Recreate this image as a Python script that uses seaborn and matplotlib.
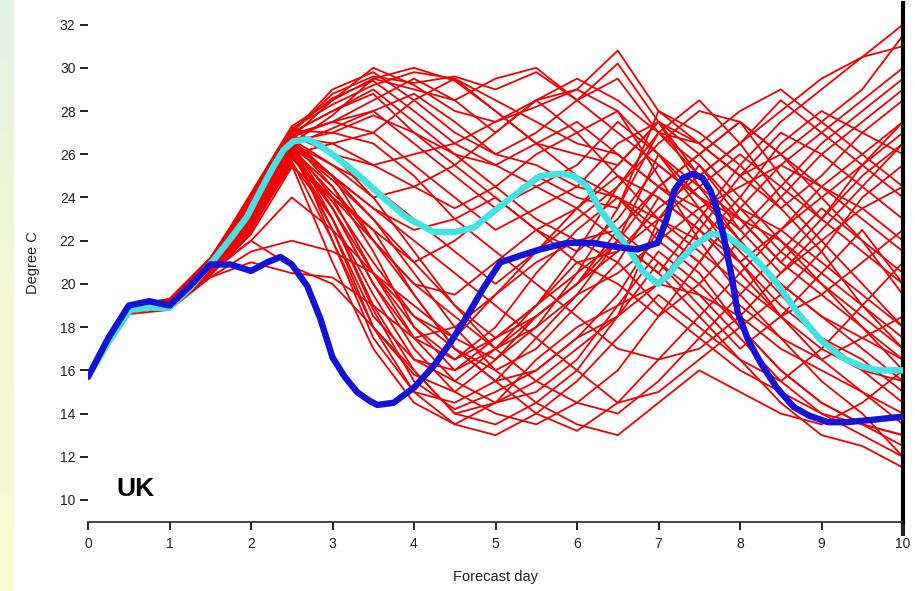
import numpy as np
import pandas as pd
import matplotlib
matplotlib.use("Agg")
import matplotlib.pyplot as plt
import seaborn as sns

# ensemble members, 12-hourly values from day 0 to day 10
steps = [i * 0.5 for i in range(21)]
members = [
    [15.8, 18.9, 19.1, 20.8, 23.5, 26.8, 28.5, 30.0, 29.2, 28.0, 27.5, 28.2, 29.0, 30.8, 28.0, 26.5, 25.0, 26.0, 27.5, 29.0, 31.5],
    [15.7, 18.8, 19.0, 20.6, 23.0, 26.5, 27.8, 29.5, 30.0, 29.4, 28.0, 26.5, 25.0, 24.0, 22.5, 21.0, 23.5, 25.5, 27.0, 28.5, 30.0],
    [15.8, 19.0, 19.2, 21.0, 24.0, 27.2, 26.0, 24.0, 21.5, 19.0, 17.5, 18.5, 20.0, 22.0, 24.5, 26.0, 27.5, 26.0, 24.0, 22.0, 19.5],
    [15.7, 18.7, 18.9, 20.4, 22.5, 26.0, 23.0, 19.5, 16.5, 15.5, 17.0, 19.0, 21.5, 23.0, 25.5, 24.0, 22.0, 20.0, 18.5, 17.0, 15.5],
    [15.8, 18.9, 19.0, 20.7, 23.2, 26.6, 22.0, 17.5, 15.0, 14.5, 15.5, 17.5, 19.5, 22.0, 26.0, 23.5, 21.0, 19.0, 17.5, 16.0, 14.5],
    [15.7, 18.8, 19.1, 20.5, 22.8, 26.2, 24.5, 21.5, 18.0, 16.0, 17.5, 19.0, 21.0, 21.5, 23.0, 22.0, 24.0, 26.5, 28.0, 27.0, 26.0],
    [15.8, 19.0, 19.3, 21.2, 24.0, 27.0, 28.0, 29.0, 27.5, 26.0, 24.5, 23.0, 22.0, 21.0, 19.0, 17.5, 16.0, 15.0, 14.0, 13.5, 13.0],
    [15.7, 18.6, 18.8, 20.3, 21.5, 22.0, 21.5, 20.5, 19.0, 17.5, 16.5, 18.0, 20.5, 23.5, 27.0, 28.5, 26.5, 24.0, 22.0, 20.0, 18.0],
    [15.8, 18.9, 19.0, 20.6, 22.0, 20.8, 20.0, 18.0, 16.0, 14.0, 14.5, 15.5, 17.0, 18.5, 20.0, 22.5, 25.0, 27.0, 26.0, 24.5, 23.0],
    [15.7, 18.7, 19.0, 20.5, 23.0, 26.3, 25.0, 23.5, 22.0, 20.5, 19.0, 17.5, 16.0, 14.5, 15.0, 16.5, 18.0, 19.5, 21.5, 24.0, 25.5],
    [15.8, 19.0, 19.2, 21.0, 23.8, 26.9, 27.5, 28.0, 26.5, 25.0, 23.5, 24.5, 25.5, 27.5, 26.0, 24.5, 23.0, 21.0, 19.5, 18.0, 16.5],
    [15.7, 18.8, 19.0, 20.6, 23.3, 26.5, 23.5, 20.0, 17.0, 15.0, 14.0, 13.5, 14.5, 16.0, 18.5, 21.0, 23.5, 22.5, 21.0, 19.5, 18.0],
    [15.8, 18.9, 19.1, 20.8, 23.6, 26.7, 25.5, 24.0, 24.5, 25.5, 27.0, 28.5, 27.0, 25.0, 23.0, 24.5, 26.0, 24.5, 23.0, 21.5, 20.0],
    [15.7, 18.7, 18.9, 20.4, 22.4, 25.8, 24.0, 22.5, 21.0, 22.0, 23.5, 25.0, 24.0, 23.5, 28.0, 27.0, 25.5, 23.5, 21.5, 19.0, 17.0],
    [15.8, 19.0, 19.2, 21.1, 24.2, 27.3, 28.5, 29.5, 29.0, 28.5, 29.5, 30.0, 28.5, 27.0, 25.5, 24.0, 22.5, 24.5, 26.5, 28.0, 29.5],
    [15.7, 18.8, 19.0, 20.5, 22.6, 25.5, 21.0, 17.0, 14.5, 13.5, 13.0, 14.0, 15.5, 17.5, 19.5, 18.0, 16.5, 15.5, 17.0, 19.0, 21.0],
    [15.8, 18.9, 19.1, 20.7, 23.1, 26.4, 24.0, 20.5, 18.0, 16.5, 18.0, 20.5, 22.5, 24.0, 22.0, 20.5, 18.0, 16.0, 14.5, 13.5, 12.5],
    [15.7, 18.7, 19.0, 20.6, 23.0, 26.0, 26.5, 27.0, 28.5, 29.5, 28.0, 26.5, 26.0, 25.5, 27.5, 25.0, 22.5, 20.5, 22.0, 23.5, 24.5],
    [15.8, 19.0, 19.2, 20.9, 23.4, 26.6, 25.0, 22.0, 19.5, 17.0, 15.5, 16.0, 17.5, 19.5, 22.5, 21.0, 19.0, 17.5, 15.5, 14.0, 12.0],
    [15.7, 18.8, 19.0, 20.5, 22.0, 24.0, 22.5, 20.5, 18.5, 17.5, 19.5, 21.5, 23.0, 24.5, 26.5, 28.0, 27.5, 25.0, 23.0, 25.5, 27.5],
    [15.8, 18.9, 19.1, 20.8, 23.7, 27.0, 29.0, 29.8, 28.5, 27.0, 26.0, 25.5, 24.5, 24.0, 23.0, 21.5, 20.0, 18.5, 17.0, 16.0, 15.5],
    [15.7, 18.7, 18.9, 20.4, 22.8, 26.1, 22.5, 18.5, 16.5, 16.0, 17.0, 18.5, 20.0, 21.5, 23.5, 25.0, 26.5, 28.5, 27.0, 25.5, 24.0],
    [15.8, 19.0, 19.2, 21.0, 23.9, 27.1, 27.0, 26.5, 25.0, 23.0, 21.5, 20.0, 18.5, 17.0, 16.5, 17.0, 18.5, 20.5, 22.5, 24.5, 26.5],
    [15.7, 18.8, 19.0, 20.6, 23.2, 26.5, 25.0, 23.0, 20.5, 18.0, 16.0, 14.5, 13.5, 13.0, 14.5, 16.0, 15.0, 14.0, 13.5, 14.5, 16.0],
    [15.8, 18.9, 19.1, 20.7, 23.5, 26.8, 27.5, 28.5, 29.5, 28.5, 27.0, 28.5, 29.5, 28.5, 27.0, 26.5, 28.0, 29.0, 27.5, 26.0, 24.5],
    [15.7, 18.7, 19.0, 20.5, 22.9, 26.2, 23.5, 20.0, 17.5, 18.0, 19.5, 21.0, 22.0, 22.5, 21.0, 19.0, 17.0, 18.5, 20.5, 22.5, 20.0],
    [15.8, 19.0, 19.2, 21.0, 23.6, 26.9, 26.0, 25.5, 26.0, 26.5, 25.5, 24.5, 23.5, 22.0, 20.5, 23.0, 25.5, 27.5, 29.0, 30.5, 32.0],
    [15.7, 18.8, 19.0, 20.6, 23.1, 26.3, 22.5, 18.0, 15.0, 13.5, 14.5, 16.5, 18.0, 19.0, 20.0, 19.5, 18.5, 17.0, 16.0, 15.0, 14.0],
    [15.8, 18.9, 19.1, 20.8, 23.4, 26.6, 24.5, 22.0, 20.0, 19.5, 21.0, 22.5, 23.5, 25.0, 24.0, 22.5, 21.0, 22.5, 24.0, 25.5, 27.0],
    [15.7, 18.7, 18.9, 20.3, 21.0, 20.5, 20.3, 19.0, 17.5, 16.5, 17.5, 19.0, 20.5, 22.0, 20.5, 18.5, 16.5, 14.5, 13.0, 12.5, 11.5],
    [15.8, 19.0, 19.3, 21.2, 24.1, 27.2, 28.3, 29.2, 29.8, 29.5, 28.5, 27.5, 26.5, 26.0, 24.5, 23.5, 24.5, 25.5, 24.5, 23.5, 22.0],
    [15.7, 18.8, 19.0, 20.5, 22.7, 25.9, 23.8, 21.0, 18.5, 17.0, 16.0, 17.0, 19.0, 21.0, 24.0, 22.5, 20.5, 18.5, 19.5, 21.0, 22.5],
    [15.8, 18.9, 19.1, 20.7, 23.3, 26.5, 25.5, 24.5, 23.0, 21.5, 20.0, 21.5, 23.5, 25.5, 27.5, 26.0, 24.0, 22.0, 20.0, 18.0, 16.0],
    [15.7, 18.7, 19.0, 20.6, 23.0, 26.4, 24.8, 23.0, 21.0, 19.0, 17.0, 15.5, 14.5, 14.0, 15.5, 17.5, 19.5, 21.5, 23.5, 22.0, 20.5],
    [15.8, 19.0, 19.2, 20.9, 23.6, 26.9, 27.5, 27.0, 25.5, 24.0, 22.5, 23.5, 24.5, 26.5, 27.5, 26.5, 25.0, 23.5, 25.0, 27.0, 28.5],
    [15.7, 18.8, 19.0, 20.5, 22.5, 25.6, 23.0, 19.0, 16.0, 14.0, 13.5, 14.5, 16.0, 18.5, 21.0, 19.5, 17.5, 15.5, 14.0, 13.0, 12.0],
    [15.8, 18.9, 19.1, 20.8, 23.8, 27.0, 28.0, 28.8, 27.0, 25.5, 24.0, 22.5, 21.0, 20.0, 18.5, 20.0, 22.0, 24.0, 26.0, 27.5, 29.0],
    [15.7, 18.7, 18.9, 20.4, 22.3, 25.4, 24.0, 22.0, 20.0, 18.5, 17.0, 18.0, 19.5, 20.5, 22.0, 23.5, 21.5, 19.5, 17.5, 16.5, 15.0],
    [15.8, 19.0, 19.2, 21.0, 23.7, 26.8, 26.5, 25.5, 24.5, 23.5, 24.5, 26.0, 27.0, 28.0, 25.0, 22.0, 19.5, 17.5, 16.5, 17.5, 18.5],
    [15.7, 18.8, 19.0, 20.6, 23.2, 26.5, 23.0, 18.8, 15.5, 14.2, 15.0, 16.0, 17.5, 18.5, 23.0, 25.5, 23.5, 21.5, 20.0, 18.5, 17.0],
    [15.8, 18.9, 19.1, 20.8, 23.6, 27.0, 28.8, 29.6, 29.3, 29.6, 29.0, 29.8, 28.5, 29.5, 27.0, 25.0, 26.5, 28.0, 29.5, 30.5, 31.0],
    [15.7, 18.8, 19.0, 20.6, 23.1, 26.4, 27.2, 28.0, 28.8, 27.5, 26.0, 27.0, 28.5, 30.2, 27.5, 24.5, 22.0, 20.0, 18.5, 17.5, 16.5],
    [15.8, 19.0, 19.2, 20.9, 23.5, 26.7, 25.0, 23.5, 22.5, 23.0, 24.0, 22.5, 21.5, 24.5, 27.0, 25.5, 23.0, 21.0, 23.0, 25.0, 26.5],
    [15.7, 18.7, 18.9, 20.5, 22.8, 26.0, 23.5, 20.5, 17.5, 15.5, 14.5, 15.0, 16.5, 19.0, 21.5, 20.0, 18.0, 16.0, 14.5, 13.5, 13.0],
    [15.8, 18.9, 19.1, 20.7, 23.3, 26.6, 27.0, 27.8, 27.0, 26.0, 25.5, 26.5, 27.5, 26.0, 24.5, 26.0, 27.5, 26.0, 24.5, 23.0, 21.5],
    [15.7, 18.8, 19.0, 20.5, 22.9, 26.2, 24.2, 22.5, 19.5, 17.0, 15.5, 14.0, 13.2, 14.5, 16.5, 18.5, 20.5, 22.5, 24.5, 26.0, 27.5],
    [15.8, 19.0, 19.2, 21.0, 23.8, 27.1, 28.6, 29.4, 28.0, 26.5, 27.5, 28.5, 29.0, 28.0, 26.0, 24.0, 23.0, 22.0, 20.5, 19.0, 17.5],
    [15.7, 18.7, 18.9, 20.4, 22.6, 25.7, 22.0, 18.0, 15.8, 15.0, 16.5, 18.5, 20.0, 22.5, 24.5, 23.0, 21.0, 18.5, 16.5, 15.0, 13.5],
]

# control forecast (cyan)
control_days = [0.0, 0.25, 0.52, 0.75, 1.0, 1.25, 1.54, 1.75, 1.95, 2.1, 2.27, 2.4, 2.52, 2.7, 2.85, 3.0, 3.3,
                3.62, 3.9, 4.24, 4.5, 4.73, 5.06, 5.3, 5.55, 5.8, 5.96, 6.13, 6.29, 6.45, 6.62, 6.8, 6.99,
                7.12, 7.24, 7.45, 7.64, 7.8, 7.92, 8.1, 8.3, 8.46, 8.7, 8.99, 9.25, 9.48, 9.7, 10.0]
control_temp = [15.7, 17.3, 18.8, 18.9, 18.9, 19.8, 21.1, 22.1, 23.1, 24.2, 25.4, 26.2, 26.6, 26.7, 26.4, 26.0, 25.1,
                24.0, 23.1, 22.4, 22.4, 22.6, 23.6, 24.3, 25.0, 25.1, 25.0, 24.5, 23.4, 22.6, 21.7, 20.6, 20.0,
                20.4, 21.0, 21.8, 22.3, 22.3, 22.0, 21.5, 20.7, 20.0, 18.7, 17.4, 16.6, 16.2, 16.0, 16.0]

# verifying analysis (blue)
analysis_days = [0.0, 0.25, 0.5, 0.75, 1.0, 1.25, 1.5, 1.75, 2.0, 2.2, 2.36, 2.5, 2.69, 2.85, 3.0, 3.15, 3.3,
                 3.45, 3.55, 3.75, 4.0, 4.24, 4.45, 4.65, 4.85, 5.06, 5.3, 5.55, 5.88, 6.2, 6.5, 6.74, 6.99,
                 7.1, 7.19, 7.3, 7.43, 7.54, 7.64, 7.72, 7.8, 7.9, 7.97, 8.1, 8.26, 8.45, 8.66, 8.85, 9.08,
                 9.3, 9.6, 9.98]
analysis_temp = [15.7, 17.5, 19.0, 19.2, 19.0, 19.9, 20.9, 20.9, 20.6, 21.0, 21.25, 20.9, 19.9, 18.4, 16.6, 15.7, 15.0,
                 14.6, 14.4, 14.5, 15.2, 16.2, 17.3, 18.5, 19.8, 21.0, 21.3, 21.6, 21.9, 21.9, 21.7, 21.6, 21.9,
                 23.0, 24.3, 24.9, 25.1, 24.9, 24.3, 23.4, 22.2, 20.3, 18.7, 17.4, 16.3, 15.2, 14.3, 13.9, 13.6,
                 13.6, 13.7, 13.85]

ytick_vals = list(range(10, 33, 2))
xtick_vals = list(range(0, 11))

ens = pd.DataFrame(
    [(m, d, t) for m, row in enumerate(members) for d, t in zip(steps, row)],
    columns=["member", "day", "temp"],
)

sns.set_style("ticks")
plt.rcParams["font.family"] = ["Liberation Sans", "DejaVu Sans"]

fig = plt.figure(figsize=(9.15, 5.91), dpi=100)
ax = fig.add_axes([88 / 915, 1 - 521.6 / 591, (903 - 88) / 915, (521.6 - 3) / 591])

# pale strip at the left edge of the slide
strip = fig.add_axes([0, 0, 14 / 915, 1])
grad = np.linspace(0, 1, 256).reshape(-1, 1)
cmap = matplotlib.colors.LinearSegmentedColormap.from_list("strip", ["#fbfbd2", "#f4f8d6", "#e2f3e0"])
strip.imshow(grad, aspect="auto", cmap=cmap, origin="lower", extent=[0, 1, 0, 1])
strip.set_axis_off()

sns.lineplot(data=ens, x="day", y="temp", units="member", estimator=None,
             color="#f00000", linewidth=1.3, ax=ax, zorder=2)
sns.lineplot(x=control_days, y=control_temp, color="#40e4e4", linewidth=4.6,
             ax=ax, zorder=3, sort=False, solid_capstyle="round", solid_joinstyle="round")
sns.lineplot(x=analysis_days, y=analysis_temp, color="#1212d8", linewidth=4.6,
             ax=ax, zorder=4, sort=False, solid_capstyle="round", solid_joinstyle="round")

ax.set_xlim(0, 10)
ax.set_ylim(9, 33)
ax.set_xticks(xtick_vals)
ax.set_xticklabels([str(v) for v in xtick_vals])
ax.set_yticks(ytick_vals)
ax.set_yticklabels([str(v) for v in ytick_vals])
ax.tick_params(axis="both", direction="out", length=6, width=1.4, labelsize=10,
               colors="#222222", pad=3)
ax.tick_params(axis="x", pad=5)
# the last x tick continues the heavy right frame line
last_tick = ax.xaxis.get_major_ticks()[-1]
last_tick.tick1line.set_markeredgewidth(3)
last_tick.tick1line.set_markersize(10)

for side in ["top", "left"]:
    ax.spines[side].set_visible(False)
ax.spines["bottom"].set_linewidth(1.2)
ax.spines["right"].set_visible(True)
ax.spines["right"].set_linewidth(3)
ax.spines["right"].set_color("black")
ax.set_facecolor("white")

ax.set_xlabel("Forecast day", fontsize=10.5, color="#222222", labelpad=14)
ax.set_ylabel("Degree C", fontsize=10.5, color="#222222", labelpad=14)
ax.text(0.58, 10.5, "UK", fontsize=19, fontweight="bold", ha="center", va="center", color="black")

fig.savefig("out.png", dpi=100)
